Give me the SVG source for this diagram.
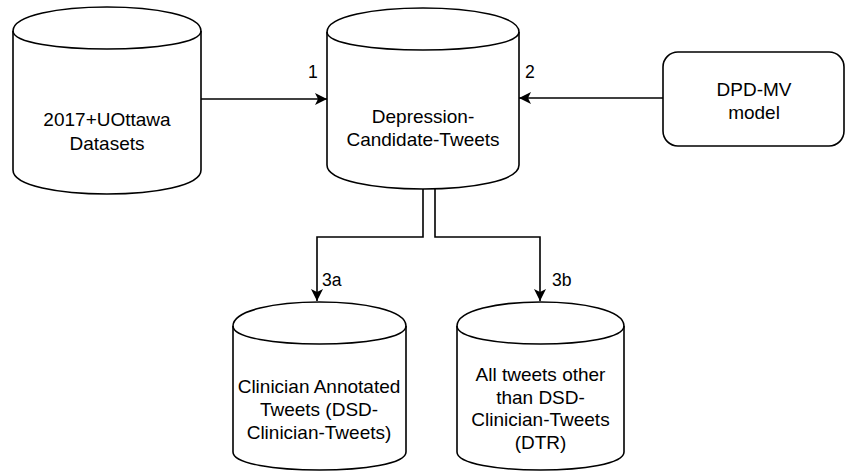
<svg xmlns="http://www.w3.org/2000/svg" width="846" height="473" viewBox="0 0 846 473">
  <style>
    .shape { fill: #ffffff; stroke: #000000; stroke-width: 1.6; }
    .edge { fill: none; stroke: #000000; stroke-width: 1.6; }
    .label { font-family: "Liberation Sans", Arial, sans-serif; font-size: 19px; fill: #000000; text-anchor: middle; }
    .elabel { font-family: "Liberation Sans", Arial, sans-serif; font-size: 17.6px; fill: #000000; }
  </style>
  <defs>
    <marker id="arrow" viewBox="0 0 12 12" markerUnits="userSpaceOnUse" markerWidth="12" markerHeight="12" refX="12" refY="6" orient="auto">
      <path d="M0,0 L12,6 L0,12 L3,6 Z" fill="#000000"/>
    </marker>
  </defs>
  <rect width="846" height="473" fill="#ffffff"/>

  <!-- connectors -->
  <g id="connectors">
    <path class="edge" d="M201,99 L327,99" marker-end="url(#arrow)"/>
    <path class="edge" d="M663,98 L519,98" marker-end="url(#arrow)"/>
    <path class="edge" d="M423,189 L423,237 L317,237 L317,301" marker-end="url(#arrow)"/>
    <path class="edge" d="M435,189 L435,237 L540,237 L540,301" marker-end="url(#arrow)"/>
    <text class="elabel" x="313" y="78" text-anchor="middle">1</text>
    <text class="elabel" x="530" y="78" text-anchor="middle">2</text>
    <text class="elabel" x="322" y="286">3a</text>
    <text class="elabel" x="552" y="286">3b</text>
  </g>

  <!-- source datasets -->
  <g id="datasets">
    <path class="shape" d="M13,31 C13,-1 201,-1 201,31 L201,170 C201,202 13,202 13,170 Z"/>
    <path class="edge" d="M13,31 C13,55 201,55 201,31"/>
    <text class="label" x="107" y="126">2017+UOttawa</text>
    <text class="label" x="107" y="149.5">Datasets</text>
  </g>

  <!-- candidate tweets store -->
  <g id="candidate-tweets">
    <path class="shape" d="M327,32 C327,0 519,0 519,32 L519,165 C519,197 327,197 327,165 Z"/>
    <path class="edge" d="M327,32 C327,56 519,56 519,32"/>
    <text class="label" x="423" y="123">Depression-</text>
    <text class="label" x="423" y="146">Candidate-Tweets</text>
  </g>

  <!-- model -->
  <g id="dpd-mv">
    <rect class="shape" x="663" y="52" width="181" height="94" rx="15" ry="15"/>
    <text class="label" x="754" y="96">DPD-MV</text>
    <text class="label" x="754" y="119">model</text>
  </g>

  <!-- clinician annotated tweets -->
  <g id="clinician-tweets">
    <path class="shape" d="M233,326 C233,294 406,294 406,326 L406,452 C406,476 233,476 233,452 Z"/>
    <path class="edge" d="M233,326 C233,350 406,350 406,326"/>
    <text class="label" x="319" y="393">Clinician Annotated</text>
    <text class="label" x="319" y="416">Tweets (DSD-</text>
    <text class="label" x="319" y="439">Clinician-Tweets)</text>
  </g>

  <!-- remaining tweets -->
  <g id="dtr">
    <path class="shape" d="M457,326 C457,294 624,294 624,326 L624,452 C624,476 457,476 457,452 Z"/>
    <path class="edge" d="M457,326 C457,350 624,350 624,326"/>
    <text class="label" x="540.5" y="381">All tweets other</text>
    <text class="label" x="540.5" y="403.5">than DSD-</text>
    <text class="label" x="540.5" y="426">Clinician-Tweets</text>
    <text class="label" x="540.5" y="448.5">(DTR)</text>
  </g>
</svg>
